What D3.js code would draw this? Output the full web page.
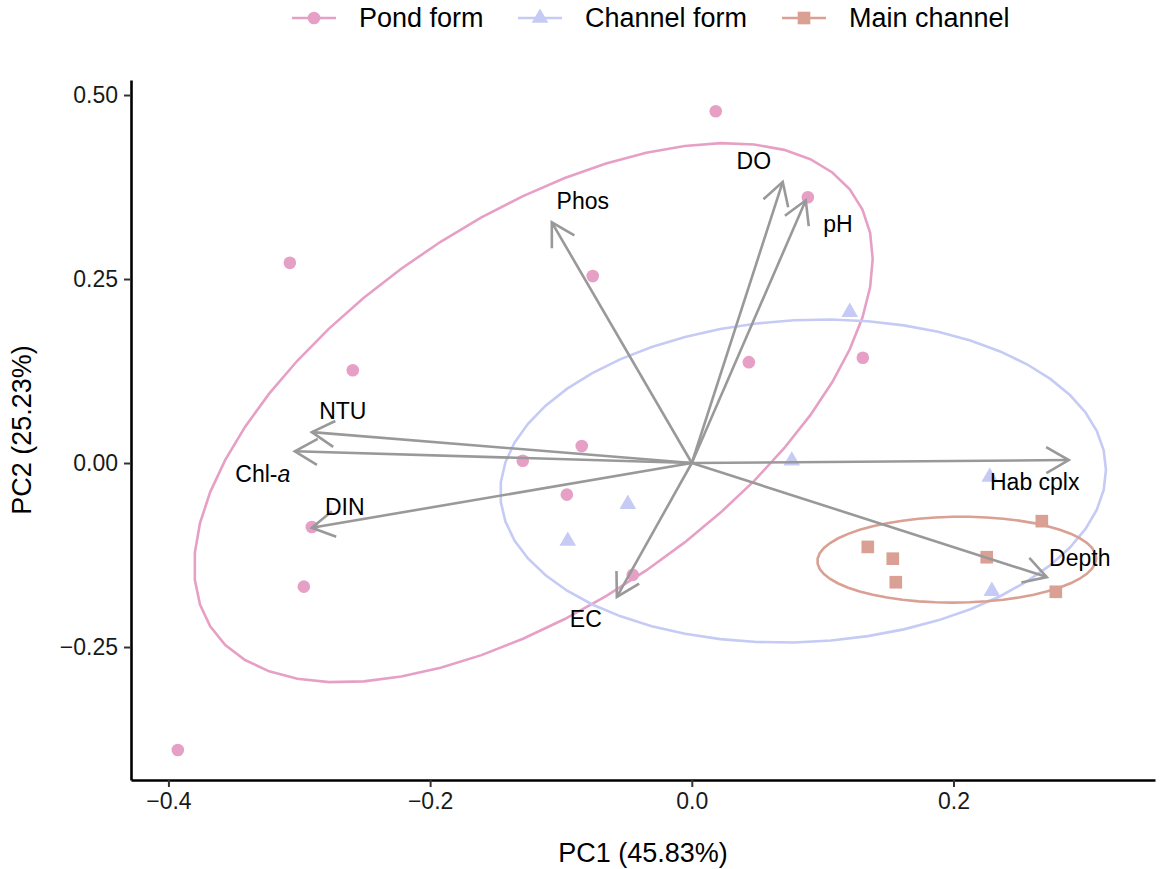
<!DOCTYPE html>
<html>
<head>
<meta charset="utf-8">
<script src="https://cdn.jsdelivr.net/npm/d3@7"></script>
<style>
    body { margin: 0; background: #fff; }
    text { font-family: 'Liberation Sans', Arial, sans-serif; }
</style>
</head>
<body>
<svg id="chart" width="1168" height="869"></svg>
<script>
// PCA scores (PC1, PC2) per group
const pondForm = [
    [0.0183, 0.478], [0.0887, 0.361], [-0.3072, 0.272], [-0.0757, 0.254],
    [-0.2591, 0.126], [0.0436, 0.137], [0.1307, 0.143], [-0.0841, 0.023],
    [-0.1292, 0.003], [-0.0955, -0.043], [-0.2904, -0.087], [-0.2965, -0.168],
    [-0.0451, -0.152], [-0.3928, -0.390]
];
const channelForm = [
    [0.1207, 0.205], [0.0764, 0.003], [-0.0489, -0.056],
    [-0.0948, -0.106], [0.2277, -0.019], [0.2293, -0.174]
];
const mainChannel = [
    [0.1345, -0.114], [0.1536, -0.130], [0.1559, -0.162],
    [0.2254, -0.128], [0.2675, -0.079], [0.2782, -0.175]
];
const groupNames = ['Pond form', 'Channel form', 'Main channel'];

// loadings (arrow tips) and label positions
const variables = ['DO', 'pH', 'Phos', 'NTU', 'Chl-a', 'DIN', 'EC', 'Hab cplx', 'Depth'];
const loadX = [0.0695, 0.0871, -0.1070, -0.2904, -0.3034, -0.2904, -0.0573, 0.2881, 0.2713];
const loadY = [0.382, 0.357, 0.327, 0.042, 0.016, -0.088, -0.182, 0.004, -0.155];
const labelX = [0.0474, 0.1116, -0.0833, -0.2667, -0.3279, -0.2652, -0.0810, 0.2621, 0.2965];
const labelY = [0.410, 0.325, 0.356, 0.0707, -0.0149, -0.0598, -0.212, -0.0258, -0.129];

const xTicks = [-0.4, -0.2, 0, 0.2];
const yTicks = [-0.25, 0, 0.25, 0.5];
const xTitle = 'PC1 (45.83%)';
const yTitle = 'PC2 (25.23%)';

const colors = ['#E6A0C6', '#C5CBF4', '#D9A093'];
const shapes = [d3.symbolCircle, d3.symbolTriangle, d3.symbolSquare];
const shapeSizes = [125, 120, 160];

const margin = { top: 80, right: 13, bottom: 89, left: 131 };
const W = 1168;
const H = 869;
const width = W - margin.left - margin.right;
const height = H - margin.top - margin.bottom;

const svg = d3.select('#chart');
const g = svg.append('g').attr('transform', `translate(${margin.left},${margin.top})`);

const x = d3.scaleLinear().domain([-0.4286, 0.3540]).range([0, width]);
const y = d3.scaleLinear().domain([-0.4307, 0.5204]).range([height, 0]);

// normal-theory ellipse, like stat_ellipse(type = 'norm')
const ellipsePath = (pts, level = 0.68, segments = 51) => {
    const n = pts.length;
    const mx = d3.mean(pts, (d) => d[0]);
    const my = d3.mean(pts, (d) => d[1]);
    const a = d3.sum(pts, (d) => (d[0] - mx) ** 2) / (n - 1);
    const b = d3.sum(pts, (d) => (d[0] - mx) * (d[1] - my)) / (n - 1);
    const c = d3.sum(pts, (d) => (d[1] - my) ** 2) / (n - 1);
    const m = n - 1;
    const qf = (m / 2) * (Math.pow(1 - level, -2 / m) - 1);
    const radius = Math.sqrt(2 * qf);
    const r11 = Math.sqrt(a);
    const r12 = b / r11;
    const r22 = Math.sqrt(c - r12 * r12);
    const out = [];
    for (let k = 0; k <= segments; k++) {
        const t = (k / segments) * 2 * Math.PI;
        const u = Math.cos(t);
        const v = Math.sin(t);
        out.push([mx + radius * u * r11, my + radius * (u * r12 + v * r22)]);
    }
    return out;
};

const groups = [pondForm, channelForm, mainChannel];

const line = d3.line().x((d) => x(d[0])).y((d) => y(d[1]));

// ellipses
g.append('g')
    .selectAll('path')
    .data(groups)
    .enter()
    .append('path')
    .attr('d', (d) => line(ellipsePath(d)) + 'Z')
    .attr('fill', 'none')
    .attr('stroke', (d, i) => colors[i])
    .attr('stroke-width', 2.6);

// points
groups.forEach((pts, i) => {
    g.append('g')
        .selectAll('path')
        .data(pts)
        .enter()
        .append('path')
        .attr('d', d3.symbol().type(shapes[i]).size(shapeSizes[i]))
        .attr('transform', (d) => `translate(${x(d[0])},${y(d[1])})`)
        .attr('fill', colors[i]);
});

// loading arrows
const arrows = g.append('g').attr('stroke', '#999999').attr('stroke-width', 2.6).attr('fill', 'none');
const headLen = 26;
const headAng = Math.PI / 6;
variables.forEach((v, i) => {
    const x0 = x(0), y0 = y(0);
    const x1 = x(loadX[i]), y1 = y(loadY[i]);
    const ang = Math.atan2(y0 - y1, x0 - x1);
    arrows.append('line')
        .attr('x1', x0).attr('y1', y0)
        .attr('x2', x1).attr('y2', y1);
    arrows.append('path')
        .attr('d', `M${x1 + headLen * Math.cos(ang + headAng)},${y1 + headLen * Math.sin(ang + headAng)}` +
            `L${x1},${y1}` +
            `L${x1 + headLen * Math.cos(ang - headAng)},${y1 + headLen * Math.sin(ang - headAng)}`);
});

// loading labels
const labels = g.append('g');
variables.forEach((v, i) => {
    const t = labels.append('text')
        .attr('x', x(labelX[i]))
        .attr('y', y(labelY[i]))
        .attr('dy', '0.35em')
        .attr('text-anchor', 'middle')
        .attr('font-size', 23)
        .attr('fill', '#000');
    if (v === 'Chl-a') {
        t.append('tspan').text('Chl-');
        t.append('tspan').attr('font-style', 'italic').text('a');
    } else {
        t.text(v);
    }
});

// axes
const axisX = d3.axisBottom(x)
    .tickValues(xTicks)
    .tickFormat(d3.format('.1f'))
    .tickSizeInner(7)
    .tickSizeOuter(0)
    .tickPadding(6);

const axisY = d3.axisLeft(y)
    .tickValues(yTicks)
    .tickFormat(d3.format('.2f'))
    .tickSizeInner(7)
    .tickSizeOuter(0)
    .tickPadding(6);

const gx = g.append('g').attr('transform', `translate(0,${height})`).call(axisX);
const gy = g.append('g').call(axisY);

[gx, gy].forEach((ax) => {
    ax.select('.domain').attr('stroke', '#000').attr('stroke-width', 2.6);
    ax.selectAll('.tick line').attr('stroke', '#333').attr('stroke-width', 2);
    ax.selectAll('.tick text')
        .attr('font-size', 23)
        .attr('fill', '#1a1a1a')
        .style('font-family', "'Liberation Sans', Arial, sans-serif");
});

g.append('text')
    .attr('x', width / 2)
    .attr('y', height + 82)
    .attr('text-anchor', 'middle')
    .attr('font-size', 27)
    .text(xTitle);

g.append('text')
    .attr('transform', `translate(${-109},${height / 2}) rotate(-90)`)
    .attr('dy', '0.35em')
    .attr('text-anchor', 'middle')
    .attr('font-size', 27)
    .text(yTitle);

// legend
const legendX = [292, 518, 782];
const legend = svg.append('g').attr('transform', 'translate(0,18)');
groupNames.forEach((name, i) => {
    const item = legend.append('g').attr('transform', `translate(${legendX[i]},0)`);
    item.append('line')
        .attr('x1', 0).attr('x2', 44)
        .attr('stroke', colors[i])
        .attr('stroke-width', 2.6);
    item.append('path')
        .attr('d', d3.symbol().type(shapes[i]).size(shapeSizes[i]))
        .attr('transform', 'translate(22,0)')
        .attr('fill', colors[i]);
    item.append('text')
        .attr('x', 67)
        .attr('dy', '0.35em')
        .attr('font-size', 27)
        .text(name);
});
</script>
</body>
</html>
